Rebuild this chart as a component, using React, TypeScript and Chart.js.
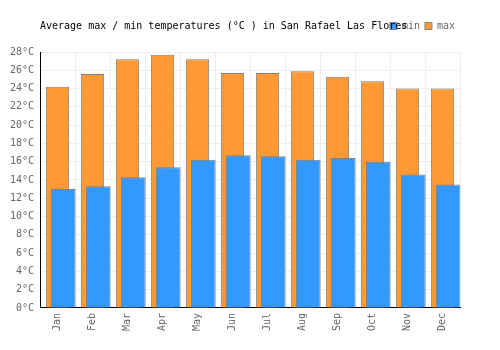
import React, { useEffect, useRef } from "react";
import { Chart, registerables } from "chart.js";

Chart.register(...registerables);

const months = ["Jan", "Feb", "Mar", "Apr", "May", "Jun", "Jul", "Aug", "Sep", "Oct", "Nov", "Dec"];
const minTemps = [13.0, 13.3, 14.3, 15.4, 16.2, 16.7, 16.6, 16.2, 16.4, 16.0, 14.6, 13.5];
const maxTemps = [24.2, 25.6, 27.2, 27.7, 27.2, 25.7, 25.7, 25.9, 25.3, 24.8, 24.0, 24.0];
const titleText = "Average max / min temperatures (°C ) in San Rafael Las Flores";

export default function App() {
  const ref = useRef<HTMLCanvasElement | null>(null);

  useEffect(() => {
    if (!ref.current) return;
    const font = { family: "'DejaVu Sans Mono', monospace", size: 10 };
    const chart = new Chart(ref.current, {
      type: "bar",
      data: {
        labels: months,
        datasets: [
          { label: "_slotL", data: [], stack: "L", order: 0 },
          { label: "_slotM", data: [], stack: "M", order: 1 },
          {
            label: "min",
            data: minTemps,
            stack: "R",
            order: 2,
            backgroundColor: "#3399FF",
            borderColor: "#808080",
            borderWidth: 1,
            categoryPercentage: 0.493,
            barPercentage: 4.3,
          },
          {
            label: "max",
            data: maxTemps,
            stack: "M",
            order: 3,
            backgroundColor: "#FF9933",
            borderColor: "#808080",
            borderWidth: 1,
            categoryPercentage: 0.493,
            barPercentage: 4.05,
          },
        ],
      },
      options: {
        animation: false,
        responsive: true,
        maintainAspectRatio: false,
        layout: { padding: { left: 2, right: 32, top: 8, bottom: 6 } },
        plugins: {
          tooltip: { enabled: false },
          title: {
            display: true,
            text: titleText,
            align: "start",
            fullSize: false,
            color: "#000",
            font: { ...font, weight: "normal" },
            padding: { top: -21, bottom: 20 },
          },
          legend: {
            display: true,
            position: "top",
            align: "end",
            weight: 3000,
            labels: {
              boxWidth: 7,
              boxHeight: 7,
              padding: 5,
              color: "#666",
              font,
              filter: (item: any) => item.datasetIndex >= 2,
            },
          },
        },
        scales: {
          x: {
            grid: { color: "#eeeeee", drawTicks: false, offset: true },
            border: { display: true, color: "#000", width: 1 },
            ticks: {
              color: "#666",
              font,
              minRotation: 90,
              maxRotation: 90,
              padding: 5,
            },
          },
          y: {
            stacked: false,
            min: 0,
            max: 28,
            afterFit: (scale: any) => {
              scale.width = 30;
            },
            grid: { color: "#eeeeee", drawTicks: false },
            border: { display: true, color: "#000", width: 1 },
            ticks: {
              stepSize: 2,
              color: "#666",
              font,
              padding: 6,
              callback: (v: any) => `${v}°C`,
            },
          },
        },
      },
    });
    return () => chart.destroy();
  }, []);

  return (
    <div style={{ width: "484px", height: "334px", position: "relative" }}>
      <canvas ref={ref} />
    </div>
  );
}
